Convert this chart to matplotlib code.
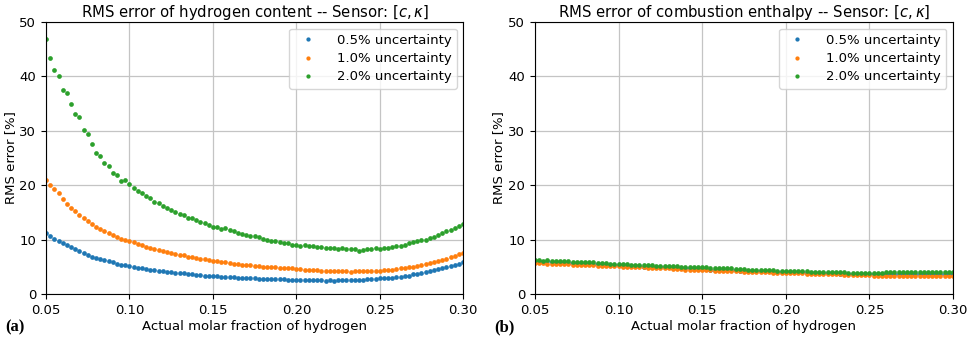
import numpy as np
import matplotlib.pyplot as plt

x = np.round(np.arange(0.05, 0.30001, 0.0025), 4)
labels = ['0.5% uncertainty', '1.0% uncertainty', '2.0% uncertainty']
colors = ['#1f77b4', '#ff7f0e', '#2ca02c']

# panel (a): RMS error of hydrogen content
h2_05 = [11.2, 10.6, 10.2, 9.8, 9.4,
         9.0, 8.6, 8.2, 7.9, 7.6, 7.2, 6.9, 6.7, 6.4, 6.2, 6.0, 5.8,
         5.6, 5.4, 5.3, 5.1, 4.9, 4.8, 4.7, 4.6, 4.5, 4.4, 4.3, 4.2,
         4.1, 4.0, 3.9, 3.8, 3.8, 3.7, 3.6, 3.5, 3.5, 3.4, 3.4, 3.3,
         3.3, 3.2, 3.2, 3.1, 3.1, 3.0, 3.0, 2.9, 2.9, 2.9, 2.8, 2.8,
         2.8, 2.7, 2.7, 2.7, 2.7, 2.6, 2.6, 2.6, 2.6, 2.5, 2.5, 2.5,
         2.5, 2.5, 2.4, 2.5, 2.4, 2.5, 2.5, 2.5, 2.5, 2.5, 2.6, 2.6,
         2.7, 2.7, 2.8, 2.9, 2.9, 3.0, 3.0, 3.1, 3.2, 3.3, 3.4, 3.6,
         3.7, 3.9, 4.0, 4.2, 4.4, 4.6, 4.8, 5.0, 5.2, 5.4, 5.6, 5.9]
h2_10 = [21.0, 20.0, 19.3, 18.5, 17.4,
         16.6, 15.9, 15.2, 14.5, 13.9, 13.4, 12.9, 12.4, 11.9, 11.6, 11.2, 10.9,
         10.5, 10.2, 9.9, 9.8, 9.5, 9.2, 9.0, 8.7, 8.5, 8.3, 8.1, 7.9,
         7.8, 7.6, 7.4, 7.2, 7.1, 6.9, 6.8, 6.6, 6.5, 6.4, 6.2, 6.1,
         6.0, 5.9, 5.8, 5.7, 5.6, 5.5, 5.4, 5.3, 5.3, 5.2, 5.1, 5.0,
         5.0, 4.9, 4.9, 4.8, 4.8, 4.7, 4.7, 4.6, 4.6, 4.5, 4.5, 4.4,
         4.4, 4.3, 4.3, 4.3, 4.2, 4.2, 4.2, 4.2, 4.1, 4.2, 4.2, 4.2,
         4.2, 4.3, 4.3, 4.3, 4.4, 4.4, 4.5, 4.6, 4.7, 4.8, 4.9, 5.0,
         5.2, 5.3, 5.5, 5.7, 5.9, 6.1, 6.3, 6.5, 6.8, 7.0, 7.3, 7.5]
h2_20 = [46.8, 43.3, 41.2, 40.0, 37.5,
         37.0, 35.0, 33.0, 32.5, 30.2, 29.5, 27.5, 26.0, 25.3, 24.0, 23.5, 22.2,
         21.8, 20.8, 20.9, 20.3, 19.5, 19.0, 18.5, 18.0, 17.6, 17.0, 16.7, 16.2,
         15.8, 15.4, 15.0, 14.7, 14.5, 14.0, 13.9, 13.6, 13.3, 13.0, 12.7, 12.4,
         12.3, 12.0, 12.1, 11.7, 11.5, 11.3, 11.1, 10.9, 10.7, 10.6, 10.4, 10.1,
         10.0, 9.8, 9.7, 9.5, 9.4, 9.3, 9.1, 9.0, 8.9, 9.0, 8.9, 8.8,
         8.7, 8.6, 8.5, 8.4, 8.5, 8.3, 8.4, 8.3, 8.2, 8.3, 8.0, 8.1,
         8.3, 8.2, 8.4, 8.3, 8.4, 8.5, 8.7, 8.8, 8.9, 9.1, 9.3, 9.5,
         9.7, 9.9, 10.0, 10.3, 10.5, 10.9, 11.2, 11.5, 11.8, 12.2, 12.5, 12.9]

# panel (b): RMS error of combustion enthalpy
hc_05 = [6.0, 6.0, 5.9, 6.0, 5.9,
         5.9, 5.8, 5.8, 5.7, 5.7, 5.7, 5.6, 5.6, 5.6, 5.5, 5.5, 5.4,
         5.4, 5.4, 5.3, 5.3, 5.2, 5.2, 5.1, 5.1, 5.1, 5.0, 5.0, 5.0,
         4.9, 4.9, 4.9, 4.9, 4.8, 4.8, 4.8, 4.7, 4.7, 4.7, 4.6, 4.6,
         4.6, 4.5, 4.5, 4.5, 4.5, 4.4, 4.4, 4.4, 4.3, 4.3, 4.3, 4.3,
         4.2, 4.2, 4.2, 4.2, 4.1, 4.1, 4.1, 4.1, 4.0, 4.0, 4.0, 4.0,
         3.9, 3.9, 3.9, 3.9, 3.8, 3.8, 3.8, 3.8, 3.7, 3.7, 3.7, 3.7,
         3.7, 3.6, 3.6, 3.6, 3.6, 3.6, 3.6, 3.6, 3.6, 3.6, 3.6, 3.6,
         3.6, 3.6, 3.6, 3.6, 3.6, 3.6, 3.7, 3.7, 3.6, 3.6, 3.7, 3.7]
hc_10 = [5.7, 5.7, 5.7, 5.6, 5.6,
         5.6, 5.5, 5.5, 5.5, 5.4, 5.4, 5.4, 5.3, 5.3, 5.3, 5.2, 5.2,
         5.2, 5.1, 5.1, 5.1, 5.0, 5.0, 5.0, 4.9, 4.9, 4.9, 4.8, 4.8,
         4.8, 4.7, 4.7, 4.7, 4.6, 4.6, 4.6, 4.5, 4.5, 4.5, 4.5, 4.4,
         4.4, 4.4, 4.3, 4.3, 4.3, 4.3, 4.2, 4.2, 4.2, 4.1, 4.1, 4.1,
         4.0, 4.0, 4.0, 4.0, 3.9, 3.9, 3.9, 3.9, 3.8, 3.8, 3.8, 3.8,
         3.7, 3.7, 3.7, 3.7, 3.6, 3.6, 3.6, 3.6, 3.6, 3.5, 3.5, 3.5,
         3.5, 3.5, 3.5, 3.5, 3.4, 3.4, 3.4, 3.4, 3.4, 3.4, 3.4, 3.4,
         3.4, 3.4, 3.4, 3.4, 3.4, 3.4, 3.4, 3.4, 3.4, 3.4, 3.4, 3.4]
hc_20 = [6.2, 6.2, 6.1, 6.2, 6.1,
         6.1, 6.0, 6.1, 6.0, 5.9, 5.9, 5.9, 5.8, 5.8, 5.8, 5.7, 5.7,
         5.7, 5.6, 5.6, 5.5, 5.5, 5.5, 5.4, 5.4, 5.4, 5.3, 5.3, 5.3,
         5.2, 5.2, 5.2, 5.1, 5.1, 5.1, 5.0, 5.0, 5.0, 4.9, 4.9, 4.9,
         4.9, 4.8, 4.8, 4.8, 4.7, 4.7, 4.7, 4.6, 4.6, 4.6, 4.5, 4.5,
         4.5, 4.5, 4.4, 4.4, 4.4, 4.3, 4.3, 4.3, 4.3, 4.2, 4.2, 4.2,
         4.2, 4.1, 4.1, 4.1, 4.1, 4.0, 4.0, 4.0, 4.0, 4.0, 3.9, 3.9,
         3.9, 3.9, 3.9, 3.9, 3.9, 3.9, 3.9, 4.0, 4.0, 4.0, 4.0, 4.0,
         4.0, 4.0, 4.0, 4.0, 4.0, 4.0, 4.1, 4.1, 4.0, 4.0, 4.1, 4.1]

titles = [r'RMS error of hydrogen content -- Sensor: $[c, \kappa]$',
          r'RMS error of combustion enthalpy -- Sensor: $[c, \kappa]$']
panels = [[h2_05, h2_10, h2_20], [hc_05, hc_10, hc_20]]
tags = ['(a)', '(b)']

fig = plt.figure(figsize=(9.69, 3.38), dpi=100)
ax_a = fig.add_axes((0.0475, 0.130, 0.4305, 0.805))
ax_b = fig.add_axes((0.552, 0.130, 0.4315, 0.805))

for ax, series, title, tag in zip([ax_a, ax_b], panels, titles, tags):
    for y, lab, c in zip(series, labels, colors):
        ax.plot(x, y, 'o', ms=3.4, mew=0, color=c, label=lab)
    ax.set_xlim(0.05, 0.30)
    ax.set_ylim(0, 50)
    ax.set_xticks([0.05, 0.10, 0.15, 0.20, 0.25, 0.30])
    ax.set_yticks([0, 10, 20, 30, 40, 50])
    ax.grid(True, color='#c4c4c4', lw=0.9)
    ax.set_axisbelow(True)
    ax.tick_params(labelsize=9.5)
    ax.set_title(title, fontsize=10.7, pad=3)
    ax.set_xlabel('Actual molar fraction of hydrogen', fontsize=9.5, labelpad=2)
    ax.set_ylabel('RMS error [%]', fontsize=9.5, labelpad=2)
    ax.legend(loc='upper right', fontsize=9.5, markerscale=0.9,
              handletextpad=1.2, borderpad=0.4, labelspacing=0.4)
    pos = ax.get_position()
    fig.text(pos.x0 - 0.042, 0.02, tag, fontsize=12, fontweight='bold',
             family='Liberation Serif')

fig.savefig('out.png', dpi=100)
